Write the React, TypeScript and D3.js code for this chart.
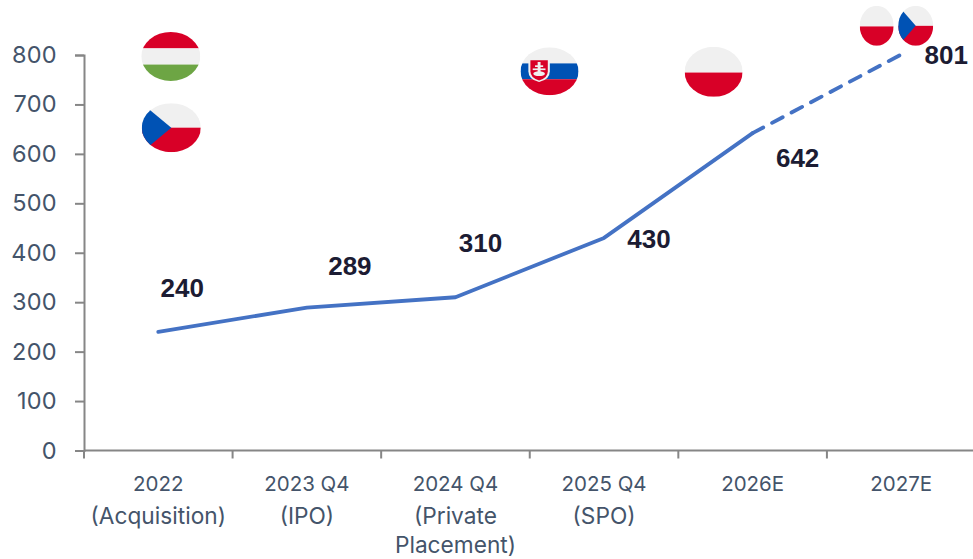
import React, { useEffect, useRef } from "react";
import * as d3 from "d3";

const categories = ["2022", "2023 Q4", "2024 Q4", "2025 Q4", "2026E", "2027E"];
const categoryLines = [
  ["2022", "(Acquisition)"],
  ["2023 Q4", "(IPO)"],
  ["2024 Q4", "(Private", "Placement)"],
  ["2025 Q4", "(SPO)"],
  ["2026E"],
  ["2027E"],
];
const values = [240, 289, 310, 430, 642, 801];
const yTicks = [0, 100, 200, 300, 400, 500, 600, 700, 800];

// label offsets from the point, px
const labelDx = [24, 43, 25, 45, 45, 45];
const labelDy = [-44, -42, -55, 1, 25, 0];

const flagCountry = ["hu", "cz", "sk", "pl", "pl", "cz"];
const flagCategory = ["2022", "2022", "2025 Q4", "2026E", "2027E", "2027E"];
const flagLevel = [797, 653, 767, 766, 859, 859];
const flagDx = [12.5, 13, -54.5, -39, -24.5, 14.5];
const flagRx = [29.5, 29.5, 29, 29, 17, 17.5];
const flagRy = [24.5, 24.5, 24, 25, 20, 20];

const WIDTH = 973;
const HEIGHT = 559;
const TEXT = "#44546a";
const AXIS = "#868686";
const FONT = "Inter, 'Open Sans', sans-serif";
const LINE_Y = [491, 524, 553];

const App = () => {
  const ref = useRef<SVGSVGElement>(null);

  useEffect(() => {
    const svg = d3.select(ref.current);
    svg.selectAll("*").remove();

    const x = d3.scaleBand<string>().domain(categories).range([84, 975.5]);
    const y = d3.scaleLinear().domain([0, 800]).range([450.5, 55]);
    const cx = (c: string) => (x(c) as number) + x.bandwidth() / 2;

    // y axis
    const yAxis = svg
      .append("g")
      .attr("transform", "translate(84,0)")
      .call(d3.axisLeft(y).tickValues(yTicks).tickSize(9).tickPadding(18));
    yAxis.selectAll("path,line").attr("stroke", AXIS).attr("stroke-width", 2);
    yAxis
      .selectAll("text")
      .attr("fill", TEXT)
      .style("font-family", FONT)
      .style("font-size", "23.5px")
      .style("letter-spacing", "0.3px");

    // x axis, ticks on the band edges
    const edges = d3.range(categories.length + 1).map((i) => 84 + i * x.step());
    const xLine = svg.append("g").attr("transform", `translate(0,${y(0)})`);
    xLine
      .append("line")
      .attr("x1", 84)
      .attr("x2", 973)
      .attr("stroke", AXIS)
      .attr("stroke-width", 2);
    xLine
      .selectAll("line.tick")
      .data(edges)
      .enter()
      .append("line")
      .attr("class", "tick")
      .attr("x1", (d) => d)
      .attr("x2", (d) => d)
      .attr("y1", 0)
      .attr("y2", 8)
      .attr("stroke", AXIS)
      .attr("stroke-width", 2);

    // category labels, the letter lines run wider than the year lines
    const catText = svg
      .append("g")
      .selectAll("text")
      .data(categories)
      .enter()
      .append("text")
      .attr("text-anchor", "middle")
      .attr("fill", TEXT)
      .style("font-family", FONT);
    catText
      .selectAll("tspan")
      .data((d, i) => categoryLines[i])
      .enter()
      .append("tspan")
      .attr("x", function () {
        return cx(d3.select(this.parentNode as any).datum() as string);
      })
      .attr("y", (d, i) => LINE_Y[i])
      .style("font-size", (d, i) => (i === 0 ? "20.5px" : "22.7px"))
      .text((d) => d);

    // line
    const line = d3
      .line<number>()
      .x((d, i) => cx(categories[i]))
      .y((d) => y(d));
    svg
      .append("path")
      .attr("d", line(values.slice(0, 5)))
      .attr("fill", "none")
      .attr("stroke", "#4472c4")
      .attr("stroke-width", 3.8)
      .attr("stroke-linecap", "round")
      .attr("stroke-linejoin", "round");
    const dashed = d3
      .line<number>()
      .x((d, i) => cx(categories[i + 4]))
      .y((d) => y(d));
    svg
      .append("path")
      .attr("d", dashed(values.slice(4)))
      .attr("fill", "none")
      .attr("stroke", "#4472c4")
      .attr("stroke-width", 3.8)
      .attr("stroke-linecap", "round")
      .attr("stroke-dasharray", "12 10");

    // value labels
    svg
      .append("g")
      .selectAll("text")
      .data(values)
      .enter()
      .append("text")
      .attr("x", (d, i) => cx(categories[i]) + labelDx[i])
      .attr("y", (d, i) => y(d) + labelDy[i])
      .attr("dy", "0.36em")
      .attr("text-anchor", "middle")
      .attr("fill", "#1c1c33")
      .style("font-family", "'Liberation Sans', Arial, sans-serif")
      .style("font-weight", "bold")
      .style("font-size", "26px")
      .text((d) => d);

    // flags
    const defs = svg.append("defs");
    flagCountry.forEach((country, i) => {
      const fx = cx(flagCategory[i]) + flagDx[i];
      const fy = y(flagLevel[i]);
      const rx = flagRx[i];
      const ry = flagRy[i];
      const id = `flag-${i}`;
      defs
        .append("clipPath")
        .attr("id", id)
        .append("ellipse")
        .attr("cx", fx)
        .attr("cy", fy)
        .attr("rx", rx)
        .attr("ry", ry);
      const g = svg.append("g").attr("clip-path", `url(#${id})`);
      const band = (top: number, bottom: number, fill: string) =>
        g
          .append("rect")
          .attr("x", fx - rx)
          .attr("y", fy + top * ry)
          .attr("width", rx * 2)
          .attr("height", (bottom - top) * ry)
          .attr("fill", fill);
      const pt = (a: number, b: number) => `${fx + a * rx},${fy + b * ry}`;

      if (country === "hu") {
        band(-1, -0.33, "#d80027");
        band(-0.33, 0.33, "#f0f0f0");
        band(0.33, 1, "#6da544");
      }
      if (country === "pl") {
        band(-1, 0.03, "#f0f0f0");
        band(0.03, 1, "#d80027");
      }
      if (country === "cz") {
        band(-1, 0, "#f0f0f0");
        band(0, 1, "#d80027");
        g.append("polygon")
          .attr("points", [pt(-1, -1), pt(0, 0), pt(-1, 1)].join(" "))
          .attr("fill", "#0052b4");
      }
      if (country === "sk") {
        band(-1, -0.33, "#f0f0f0");
        band(-0.33, 0.33, "#0052b4");
        band(0.33, 1, "#d80027");
        const shield = (s: number, fill: string) =>
          g
            .append("path")
            .attr(
              "d",
              `M${pt(-0.66 - s, -0.46 - s)} L${pt(-0.06 + s, -0.46 - s)} L${pt(-0.06 + s, 0)} Q${pt(-0.06 + s, 0.28 + s)} ${pt(-0.36, 0.38 + s)} Q${pt(-0.66 - s, 0.28 + s)} ${pt(-0.66 - s, 0)} Z`,
            )
            .attr("fill", fill);
        shield(0.07, "#f0f0f0");
        shield(0, "#d80027");
        // double cross and its base
        g.append("rect")
          .attr("x", fx - 0.41 * rx)
          .attr("y", fy - 0.39 * ry)
          .attr("width", 0.1 * rx)
          .attr("height", 0.42 * ry)
          .attr("fill", "#f0f0f0");
        [-0.25, -0.12].forEach((b, k) => {
          const half = k === 0 ? 0.14 : 0.22;
          g.append("rect")
            .attr("x", fx + (-0.36 - half) * rx)
            .attr("y", fy + b * ry)
            .attr("width", half * 2 * rx)
            .attr("height", 0.07 * ry)
            .attr("fill", "#f0f0f0");
        });
        g.append("ellipse")
          .attr("cx", fx - 0.36 * rx)
          .attr("cy", fy + 0.1 * ry)
          .attr("rx", 0.2 * rx)
          .attr("ry", 0.1 * ry)
          .attr("fill", "#f0f0f0");
      }
    });
  }, []);

  return (
    <svg
      ref={ref}
      width={WIDTH}
      height={HEIGHT}
      style={{ position: "absolute", left: 0, top: 0, background: "#fff" }}
    ></svg>
  );
};

export default App;
